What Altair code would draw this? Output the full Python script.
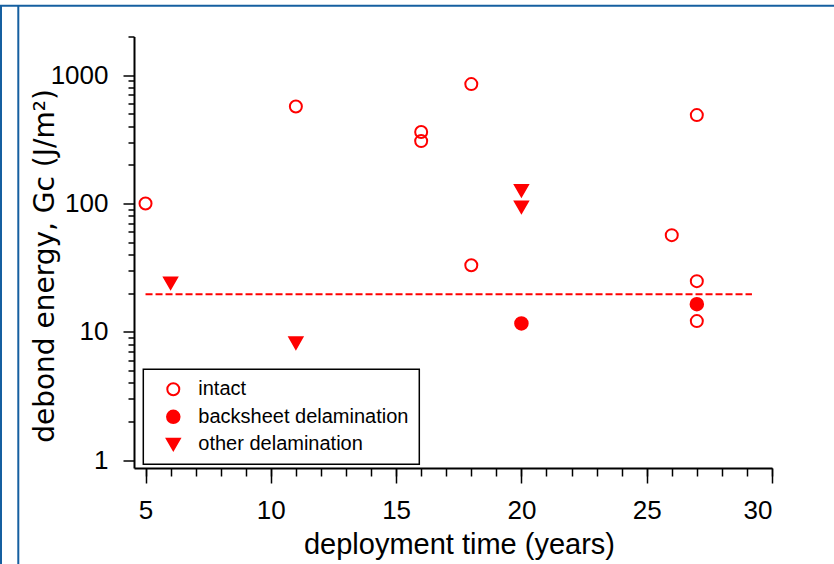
import altair as alt
import pandas as pd

# ---- data ----
intact_x = [5, 11, 16, 16, 18, 18, 26, 27, 27, 27]
intact_y = [100, 570, 360, 306, 851, 33, 56.6, 488, 24.8, 12.1]
backsheet_x = [20, 27]
backsheet_y = [11.6, 16.4]
other_x = [6, 11, 20, 20]
other_y = [23.9, 8.17, 126, 93.6]

threshold_x = [5, 29.2]
threshold_y = 19.6

categories = ["intact", "backsheet delamination", "other delamination"]

x_major = [5, 10, 15, 20, 25, 30]
x_minor = list(range(5, 31))
y_major = [1, 10, 100, 1000]
y_minor = [2, 3, 4, 5, 6, 7, 8, 9, 20, 30, 40, 50, 60, 70, 80, 90,
           200, 300, 400, 500, 600, 700, 800, 900, 2000]

rows = []
for xs, ys, cat in [(intact_x, intact_y, categories[0]),
                    (backsheet_x, backsheet_y, categories[1]),
                    (other_x, other_y, categories[2])]:
    for a, b in zip(xs, ys):
        rows.append({"t": a, "g": b, "type": cat})
pts = pd.DataFrame(rows)
thr = pd.DataFrame({"x1": [threshold_x[0]], "x2": [threshold_x[1]], "y": [threshold_y]})

FONT = "Liberation Sans"
RED = "#ff0000"
BLUE = "#155fa0"

xscale = alt.Scale(domain=[4.54, 30], zero=False, nice=False)
yscale = alt.Scale(type="log", domain=[0.867, 2000], nice=False)

points = alt.Chart(pts).mark_point(filled=True, strokeWidth=2, opacity=1).encode(
    x=alt.X("t:Q", scale=xscale,
            axis=alt.Axis(values=x_major, tickSize=15, tickWidth=1.5, domainWidth=2,
                          domainColor="black", tickColor="black", labelColor="black",
                          labelFont=FONT, labelFontSize=26, labelPadding=14,
                          labelBaseline="top", grid=False, orient="bottom",
                          title="deployment time (years)", titleFont=FONT,
                          titleFontSize=29, titleFontWeight="normal", titleColor="black",
                          titleBaseline="alphabetic", titleX=325, titleY=85)),
    y=alt.Y("g:Q", scale=yscale,
            axis=alt.Axis(values=y_major, tickSize=11, tickWidth=1.5, domainWidth=2,
                          domainColor="black", tickColor="black", labelColor="black",
                          labelFont=FONT, labelFontSize=26, labelPadding=15,
                          format="d", grid=False, orient="left",
                          title="debond energy, Gc (J/m²)", titleFont="DejaVu Sans",
                          titleFontSize=28, titleFontWeight="normal", titleColor="black",
                          titleBaseline="alphabetic", titleAngle=270,
                          titleX=-81, titleY=229)),
    shape=alt.Shape("type:N", scale=alt.Scale(domain=categories,
                    range=["circle", "circle", "triangle-down"]),
                    legend=alt.Legend(title=None)),
    fill=alt.Fill("type:N", scale=alt.Scale(domain=categories,
                  range=["transparent", RED, RED]), legend=alt.Legend(title=None)),
    stroke=alt.Stroke("type:N", scale=alt.Scale(domain=categories,
                      range=[RED, RED, RED]), legend=alt.Legend(title=None)),
    size=alt.Size("type:N", scale=alt.Scale(domain=categories, range=[144, 169, 100]),
                  legend=alt.Legend(title=None)),
)

threshold = alt.Chart(thr).mark_rule(color=RED, strokeWidth=2, strokeDash=[7, 3]).encode(
    x=alt.X("x1:Q", scale=xscale, axis=None), x2="x2:Q",
    y=alt.Y("y:Q", scale=yscale, axis=None)
)

minor = alt.Chart(thr).mark_point(opacity=0).encode(
    x=alt.X("x1:Q", scale=xscale,
            axis=alt.Axis(values=x_minor, tickSize=8, tickWidth=1.5, labels=False,
                          domain=False, grid=False, tickColor="black", title=None,
                          orient={"expr": "'bottom'"})),
    y=alt.Y("y:Q", scale=yscale,
            axis=alt.Axis(values=y_minor, tickSize=6, tickWidth=1.5, labels=False,
                          domain=False, grid=False, tickColor="black", title=None,
                          orient={"expr": "'left'"})),
)

one = pd.DataFrame({"k": [0]})
frame_top = alt.Chart(one).mark_rule(color=BLUE, strokeWidth=2).encode(
    x=alt.value(-134), x2=alt.value(700), y=alt.value(-30.8))
frame_l1 = alt.Chart(one).mark_rule(color=BLUE, strokeWidth=2).encode(
    x=alt.value(-133), y=alt.value(-31), y2=alt.value(528))
frame_l2 = alt.Chart(one).mark_rule(color=BLUE, strokeWidth=2).encode(
    x=alt.value(-115.7), y=alt.value(-31), y2=alt.value(528))

chart = alt.layer(points, threshold, minor, frame_top, frame_l1, frame_l2).resolve_axis(
    x="independent", y="independent"
).properties(
    width=638, height=431.5,
    autosize=alt.AutoSizeParams(type="none"),
    padding={"left": 134, "top": 36.5, "right": 62, "bottom": 96.5},
).configure_view(stroke=None).configure_legend(
    orient="none", legendX=9.3, legendY=332.8,
    strokeColor="black", strokeWidth=1.5, fillColor="white", padding=10,
    cornerRadius=0, labelFont=FONT, labelFontSize=20, labelColor="black",
    labelLimit=0, symbolStrokeWidth=2, symbolOffset=10, labelOffset=15,
    rowPadding=6.5
)

chart.save("out.html", embed_options={"renderer": "svg", "actions": False})
